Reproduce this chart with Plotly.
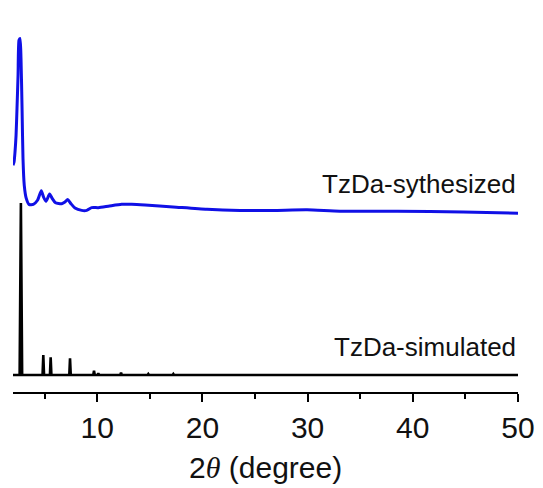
import plotly.graph_objects as go

# Simulated pattern: reflection positions (2θ, degree) and relative intensities
sim_pos = [2.75, 4.88, 5.58, 7.42, 9.70, 10.11, 12.27, 14.86, 17.24]
sim_int = [100.0, 11.6, 10.3, 9.7, 2.5, 1.0, 1.3, 0.6, 0.6]
sim_halfwidth = [0.12, 0.07, 0.07, 0.07, 0.07, 0.07, 0.07, 0.07, 0.07]

# Measured pattern of the synthesized sample (2θ, intensity a.u.)
exp_2theta = [2.00, 2.10, 2.19, 2.29, 2.38, 2.48, 2.57, 2.67, 2.76, 2.86,
              2.95, 3.07, 3.26, 3.52, 3.93, 4.33, 4.69, 4.90, 5.14, 5.48,
              5.74, 6.04, 6.63, 6.94, 7.20, 7.51, 7.89, 8.53, 9.01, 9.48,
              10.11, 11.06, 12.33, 13.28, 14.55, 17.21, 20.44, 23.58, 26.71,
              29.95, 33.08, 38.50, 44.78, 50.00]
exp_int = [27.9, 29.8, 35.6, 45.3, 61.0, 80.2, 100.6, 101.6, 90.1, 61.0,
           32.0, 16.3, 8.7, 5.2, 5.2, 7.6, 13.1, 9.5, 7.0, 11.2,
           8.5, 6.1, 5.6, 6.6, 8.0, 5.6, 3.1, 1.7, 1.7, 3.3,
           3.3, 4.1, 5.2, 5.2, 4.8, 3.7, 2.3, 1.7, 1.7,
           2.0, 1.2, 1.2, 0.8, 0.0]
exp_offset = 94.0

x_range = [2, 50]
x_ticks = [10, 20, 30, 40, 50]

# Stick pattern: each reflection drawn as a narrow spike on a flat baseline
sx, sy = [x_range[0]], [0.0]
for p, h, w in zip(sim_pos, sim_int, sim_halfwidth):
    sx += [p - w, p, p + w]
    sy += [0.0, h, 0.0]
sx.append(x_range[1])
sy.append(0.0)

fig = go.Figure()
fig.add_trace(go.Scatter(
    x=sx, y=sy, mode="lines",
    line=dict(color="#000000", width=2.6),
    hoverinfo="skip", showlegend=False,
))
fig.add_trace(go.Scatter(
    x=exp_2theta, y=[v + exp_offset for v in exp_int], mode="lines",
    line=dict(color="#1010e6", width=3, shape="spline", smoothing=0.6),
    hoverinfo="skip", showlegend=False,
))

label_font = dict(family="Liberation Sans, Arial, sans-serif", size=26, color="#111111")
fig.add_annotation(x=50, y=111.0, xref="x", yref="y", text="TzDa-sythesized",
                   showarrow=False, xanchor="right", yanchor="middle", font=label_font)
fig.add_annotation(x=50, y=16.3, xref="x", yref="y", text="TzDa-simulated",
                   showarrow=False, xanchor="right", yanchor="middle", font=label_font)

# Axis title as a paper-positioned annotation
fig.add_annotation(
    x=0.5, y=-0.204, xref="paper", yref="paper", showarrow=False,
    xanchor="center", yanchor="middle",
    text="2<span style=\"font-family:'Liberation Serif', 'Times New Roman', serif\"><i>θ</i></span> (degree)",
    font=dict(family="Liberation Sans, Arial, sans-serif", size=30, color="#111111"),
)

fig.update_xaxes(
    range=x_range, tickvals=x_ticks, ticktext=[str(t) for t in x_ticks],
    showline=True, linecolor="#000000", linewidth=2.4,
    ticks="outside", ticklen=8, tickwidth=2.2, tickcolor="#000000",
    minor=dict(tickvals=[5, 15, 25, 35, 45], ticks="outside", ticklen=5,
               tickwidth=2, tickcolor="#000000"),
    showgrid=False, zeroline=False, automargin=False,
    tickfont=dict(family="Liberation Sans, Arial, sans-serif", size=30, color="#111111"),
)
fig.update_yaxes(range=[-9.9, 206.4], visible=False)

fig.update_layout(
    width=543, height=488,
    margin=dict(l=13, r=25, t=20, b=96),
    paper_bgcolor="#ffffff", plot_bgcolor="#ffffff",
)

fig.write_html("out.html")
